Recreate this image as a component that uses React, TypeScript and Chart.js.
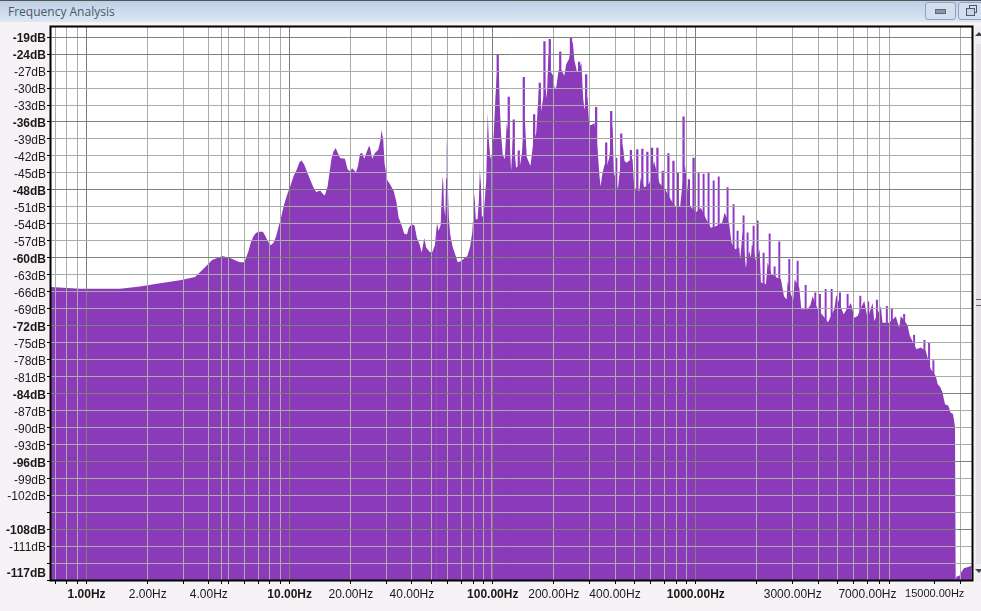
import React, { useEffect, useRef } from "react";
import { Chart, registerables } from "chart.js";

Chart.register(...registerables);

const smoothHz = [0.668,0.929,1.46,1.83,2.3,2.88,3.42,3.83,4.15,4.65,5.09,5.29,5.49,5.7,5.96,6.06,6.27,6.43,6.63,6.84,7.1,7.38,7.6,7.83,8.07,8.32,8.58,8.84,9.11,9.39,9.77,10.06,10.45,10.84,11.18,11.44,11.79,12.24,12.62,13.1,13.5,14.15,14.46,14.9,15.37,15.7,16.08,16.44,16.85,17.25,17.76,18.7,19.3,19.85,20.3,21.2,21.7,22.2,22.75,23.3,24,24.6,24.9,25.5,26.3,27.3,28,28.3,28.9,29.3,30.2,31.3,32.5,33.5,34.4,35.7,36.6,37.8,38.6,39.8,41.2,42.3,43.6,44.7,46,47,48.9,50.3,51.9,53.1];
const smoothDb = [-65.2,-65.5,-65.5,-65.1,-64.5,-64,-63.4,-61.7,-60.4,-59.7,-60.06,-60.3,-60.6,-60.8,-60.8,-60.3,-58.8,-57.4,-56.2,-55.6,-55.4,-55.4,-56.2,-57.2,-57.8,-57.4,-56.2,-54.4,-52.6,-50.6,-48.6,-47.4,-45.6,-44.4,-43.1,-42.8,-43.5,-45,-46.2,-47.6,-48.4,-48.1,-48.6,-49,-47.4,-45,-42.4,-41.2,-40.6,-41.5,-42.4,-42.5,-44.4,-44.7,-44.2,-44.9,-43.8,-41.6,-41.5,-42.5,-41.2,-40.2,-40.6,-42.5,-41.5,-40.9,-39.2,-37.4,-39.2,-43.2,-46.2,-47.1,-48.2,-50,-52.9,-54.4,-55.7,-55.9,-54.7,-54.1,-54.3,-56.5,-57.6,-59.1,-56.5,-58.2,-59,-59.1,-57.8,-53.8];

const lowSpikeHz = [53.1,54.1,55.4,56.2,56.7,57.1,57.5,58.4,58.9,59.3,59.8,60.3,60.8,61.7,62.2,63.4,65.7,67.2,70,71.9,75,77.4,79.2,80.4,81,81.6,82.5,84.1,85.4,86.4,87.4,88.4,90,91.4,92.8,94.5,95.6,97.4,98.9];
const lowSpikeDb = [-53.8,-55.3,-54.2,-48,-45.5,-47,-50.8,-52.7,-46,-39.1,-42,-49,-52.9,-55.8,-56.5,-58,-59.7,-60.8,-60.6,-60.2,-59.7,-58,-55.6,-52,-48.5,-50,-53.2,-53.2,-50,-44.3,-47,-52.6,-52.9,-49.7,-46.5,-34.4,-39.1,-42.6,-41.6];

const midSpikeHz = [98.9,101.1,103,104.6,105.8,107,108.3,109.9,112,114.6,117.2,119.9,121.3,123.1,125.5,126.9,128.8,130.3,134.3,136.4,139.5,142.2,143.8,147,153.3,157.5,159.9,163.6,168.6,170.5,173,175.7,179.7,181.8,184.6,188.1,190.9,193.1,198.4,201.5,205.4,210.9,214.9,218.2,224.9,230.1,237.2,242.7,247.4,252.2,260.1,266.2,273.4,278.7,282.9,288.4,292.8,298.4,307.6,316.9,322.9,327.9,335.5,339.3,347.2,355.2,361.9,366,374.4,383,388.9,394.8,405.4,413.2,422.8,429.2,435.8,445.8,456,466.5,479,488,495.6,507,514.9,526.9,535,545.2,557.8,577.2,590.5,608.7,622.7,646.8,661.6,687,705.5,732.9,752.5,775.7,790.5,815,837.4,853.5,870,883.3,910.5,924.4,938.5,974.7,997];
const midSpikeDb = [-41.6,-38.2,-31.8,-27.9,-24.1,-26.2,-33.2,-38.2,-41.8,-42.6,-36.2,-31.6,-39.4,-44.7,-39.1,-35.6,-42,-44.1,-41.1,-43.5,-41.2,-28.1,-35.2,-42.2,-43.8,-40.3,-34.7,-37.9,-30.3,-29.1,-34.1,-32.5,-21.8,-30,-31.8,-23.8,-21.4,-27.1,-27.8,-30,-29.9,-26.8,-23.6,-26.8,-27.8,-25.8,-24.9,-21.2,-21.6,-25,-27.2,-25.4,-25.6,-31.8,-33.8,-27.6,-31.5,-36.6,-36.5,-36.2,-33.4,-40.6,-45.6,-47.4,-45,-43.5,-39.7,-43.5,-42.4,-34.1,-36.5,-44.9,-42.4,-47.9,-44.4,-38.1,-39.7,-42.9,-43.2,-42.9,-41,-42.6,-46.8,-48.1,-40.9,-48.2,-45.9,-40.8,-47.6,-41.3,-46.8,-40.6,-42.9,-40.6,-46.8,-44.7,-47.9,-41.6,-49.7,-42.9,-50.9,-45,-50.9,-47.9,-35.1,-43.5,-47.9,-46.2,-50.9,-42.4,-52];

const highSpikeHz = [997,1032,1060,1092,1125,1155,1186,1224,1262,1296,1346,1388,1433,1460,1499,1534,1563,1605,1636,1654,1699,1718,1764,1798,1832,1867,1889,1925,1977,2015,2061,2092,2156,2214,2257,2309,2353,2443,2499,2576,2625,2716,2799,2831,2885,2940,3019,3065,3172,3233,3307,3395,3473,3553,3662,3760,3875,3979,4085,4243,4357,4473,4663,4806,4917,5125,5342,5589,5805,6028,6261,6453,6751,7010,7063,7419,7560,7791,8150,8305,8720,8953,9228,9655,10026,10217,10610,11018,11311,11880,12198,12810,13354,13557,14077,14345,14783,15178,15525,15999,16364,16865,17510,17977,18456,18900];
const highSpikeDb = [-52,-45,-51.2,-45.2,-53.2,-45,-54.7,-46.4,-54.4,-45.7,-53.8,-52,-47.6,-54.1,-57.4,-50.6,-58.5,-55.3,-58.2,-60.3,-55.3,-52.6,-61.8,-55.6,-58.8,-60,-57.4,-54.4,-60.6,-53.5,-58.5,-64.4,-59.2,-64.7,-60.8,-55.8,-62.9,-61.6,-63.5,-57.2,-63.8,-66.8,-67.4,-64.1,-60.3,-66.5,-67.4,-63.8,-60.6,-65.3,-69.1,-69.1,-64.9,-69.1,-68.4,-66.8,-66.2,-69.1,-66.5,-70.3,-65.6,-71.4,-65.6,-69.1,-66.6,-66.2,-70,-66.5,-68,-70.6,-70.3,-66.8,-67.6,-70.8,-67.8,-68,-71.2,-67.5,-68.6,-71.5,-68.6,-71.5,-69.1,-70.4,-72.4,-70.3,-70,-71.9,-73.8,-73.7,-76.2,-75.9,-74.6,-76.5,-75.1,-79.7,-78.2,-80.9,-82.4,-82.9,-83.8,-85.9,-86.2,-87.4,-87.6,-90];

const tailHz = [18900,19050,19200,19800,20300,20900,21900,22800];
const tailDb = [-90,-116.9,-116.4,-116.3,-115.6,-114.9,-114.7,-114.5];

const xTickHz = [0.7,0.8,0.9,1,2,3,4,4.6,5,6,7,8,9,10,20,30,40,50,60,70,80,90,100,200,300,400,500,600,700,800,900,1000,2000,3000,4000,5000,6000,7000,8000,9000,15000,20000];
const xLabelHz = [1,2,4,10,20,40,100,200,400,1000,3000,7000,15000];
const xLabelText = ["1.00Hz","2.00Hz","4.00Hz","10.00Hz","20.00Hz","40.00Hz","100.00Hz","200.00Hz","400.00Hz","1000.00Hz","3000.00Hz","7000.00Hz","15000.00Hz"];
const xBoldHz = [1,10,100,1000];

const yTickDb = [-21,-24,-27,-30,-33,-36,-39,-42,-45,-48,-51,-54,-57,-60,-63,-66,-69,-72,-75,-78,-81,-84,-87,-90,-93,-96,-99,-102,-105,-108,-111,-114,-115.6,-117];
const yLabelText = ["-19dB","-24dB","-27dB","-30dB","-33dB","-36dB","-39dB","-42dB","-45dB","-48dB","-51dB","-54dB","-57dB","-60dB","-63dB","-66dB","-69dB","-72dB","-75dB","-78dB","-81dB","-84dB","-87dB","-90dB","-93dB","-96dB","-99dB","-102dB","","-108dB","-111dB","","-117dB",""];
const yBoldDb = [-21,-24,-36,-48,-60,-72,-84,-96,-108,-115.6];

const PURPLE = "#8B3ABA";
const SPIKE = "#9038C4";
const FONT = "'Liberation Sans', Arial, sans-serif";

function points(xs: number[], ys: number[]) {
  return xs.map((x, i) => ({ x, y: ys[i] }));
}

function isPeak(ys: number[], i: number) {
  return i > 0 && i < ys.length - 1 && ys[i] > ys[i - 1] && ys[i] > ys[i + 1];
}

// the readings themselves are unchanged: local peaks are shown as single-bin columns, the rest as the filled body
function area(data: { x: number; y: number }[]) {
  return {
    data,
    backgroundColor: PURPLE,
    borderColor: PURPLE,
    borderWidth: 0,
    pointRadius: 0,
    tension: 0,
    fill: "start",
  };
}

function body(xs: number[], ys: number[]) {
  return area(points(xs, ys).filter((_, i) => !isPeak(ys, i)));
}

function peaks(xs: number[], ys: number[], width: number) {
  return {
    type: "bar",
    data: points(xs, ys).filter((_, i) => isPeak(ys, i)),
    base: -117,
    barThickness: width,
    grouped: false,
    backgroundColor: SPIKE,
    borderWidth: 0,
  };
}

const framePlugin = {
  id: "frame",
  beforeDraw(chart: any) {
    const { ctx, chartArea: a } = chart;
    ctx.save();
    ctx.fillStyle = "#FFFFFF";
    ctx.fillRect(a.left, a.top, a.right - a.left, a.bottom - a.top);
    ctx.restore();
  },
  afterDraw(chart: any) {
    const { ctx, chartArea: a } = chart;
    ctx.save();
    ctx.strokeStyle = "#000000";
    ctx.lineWidth = 2;
    ctx.strokeRect(a.left - 0.5, a.top - 0.5, a.right - a.left + 1, a.bottom - a.top + 1);
    ctx.restore();
  },
};

export default function App() {
  const ref = useRef<HTMLCanvasElement>(null);
  useEffect(() => {
    const chart = new Chart(ref.current as HTMLCanvasElement, {
      type: "line",
      data: {
        datasets: [
          area(points(smoothHz, smoothDb)),
          area(points(lowSpikeHz, lowSpikeDb)),
          body(midSpikeHz, midSpikeDb),
          peaks(midSpikeHz, midSpikeDb, 1.6),
          body(highSpikeHz, highSpikeDb),
          peaks(highSpikeHz, highSpikeDb, 1.3),
          area(points(tailHz, tailDb)),
        ] as any,
      },
      plugins: [framePlugin],
      options: {
        animation: false,
        responsive: false,
        devicePixelRatio: 1,
        layout: { padding: { top: 27, right: 9, left: 0, bottom: 0 } },
        plugins: { legend: { display: false }, tooltip: { enabled: false } },
        scales: {
          x: {
            type: "logarithmic",
            offset: false,
            min: 0.668,
            max: 22900,
            afterBuildTicks: (s: any) => {
              s.ticks = xTickHz.map((value) => ({ value }));
            },
            afterFit: (s: any) => {
              s.height = 31;
            },
            grid: {
              z: 1,
              offset: false,
              tickLength: 4,
              tickColor: "#000000",
              color: (c: any) =>
                !c.tick || c.tick.value === 15000
                  ? "rgba(0,0,0,0)"
                  : xBoldHz.includes(c.tick.value)
                  ? "#7C827A"
                  : "#A9ACA9",
            },
            border: { display: false },
            ticks: {
              autoSkip: false,
              maxRotation: 0,
              minRotation: 0,
              padding: 3,
              color: "#1A1A1A",
              font: (c: any) => ({
                family: FONT,
                size: c.tick && c.tick.value === 15000 ? 11 : 12,
                weight: c.tick && xBoldHz.includes(c.tick.value) ? "bold" : "normal",
              }),
              callback: (v: any) => {
                const i = xLabelHz.indexOf(Number(v));
                return i >= 0 ? xLabelText[i] : "";
              },
            },
          },
          y: {
            type: "linear",
            beginAtZero: false,
            min: -117,
            max: -19.2,
            afterBuildTicks: (s: any) => {
              s.ticks = yTickDb.map((value) => ({ value }));
            },
            afterFit: (s: any) => {
              s.width = 51;
            },
            grid: {
              z: 1,
              tickLength: 4,
              tickColor: (c: any) =>
                c.tick && c.tick.value === -115.6 ? "rgba(0,0,0,0)" : "#000000",
              color: (c: any) =>
                !c.tick || c.tick.value === -115.6
                  ? "rgba(0,0,0,0)"
                  : yBoldDb.includes(c.tick.value)
                  ? "#7C827A"
                  : "#A9ACA9",
            },
            border: { display: false },
            ticks: {
              autoSkip: false,
              padding: 1,
              labelOffset: 2,
              color: "#1A1A1A",
              font: (c: any) => ({
                family: FONT,
                size: 12,
                weight: c.tick && yBoldDb.includes(c.tick.value) ? "bold" : "normal",
              }),
              callback: (v: any) => {
                const i = yTickDb.indexOf(Number(v));
                return i >= 0 ? yLabelText[i] : "";
              },
            },
          },
        },
      } as any,
    });
    return () => chart.destroy();
  }, []);

  return (
    <div style={{ position: "absolute", left: 0, top: 0, width: 981, height: 611, background: "#F6F2F6", overflow: "hidden" }}>
      <canvas ref={ref} width={981} height={611} style={{ position: "absolute", left: 0, top: 0, width: 981, height: 611 }} />
      <div style={{ position: "absolute", left: 0, top: 0, width: 981, height: 22, boxSizing: "border-box", borderTop: "1px solid #555", background: "linear-gradient(#BFD0E6,#DCE7F5)" }}>
        <span style={{ position: "absolute", left: 8, top: 2, font: "12px 'Open Sans', sans-serif", color: "#4A5866" }}>Frequency Analysis</span>
        <div style={{ position: "absolute", left: 925, top: 1, width: 29, height: 16, border: "1px solid #8FA3BC", borderRadius: 3, background: "#D3DFEE" }}>
          <div style={{ position: "absolute", left: 9, top: 6, width: 9, height: 3, background: "#8A96A4", border: "1px solid #5E6A78" }} />
        </div>
        <div style={{ position: "absolute", left: 958, top: 1, width: 30, height: 16, border: "1px solid #8FA3BC", borderRadius: 3, background: "#D3DFEE" }}>
          <div style={{ position: "absolute", left: 10, top: 2, width: 6, height: 6, border: "1px solid #4E5A68" }} />
          <div style={{ position: "absolute", left: 7, top: 5, width: 7, height: 6, border: "1px solid #4E5A68", background: "#C8D4E2" }} />
        </div>
      </div>
      <div style={{ position: "absolute", left: 975, top: 27, width: 6, height: 554, background: "#F0EEF1" }}>
        <div style={{ position: "absolute", left: 0, top: 5, width: 0, height: 0, borderLeft: "4px solid transparent", borderRight: "4px solid transparent", borderBottom: "4px solid #444" }} />
        <div style={{ position: "absolute", left: 1, top: 17, width: 5, height: 520, background: "#E4E2E6" }} />
        <div style={{ position: "absolute", left: 1, top: 272, width: 5, height: 7, borderTop: "1px solid #666", borderBottom: "1px solid #666", boxSizing: "border-box" }} />
        <div style={{ position: "absolute", left: 0, top: 542, width: 0, height: 0, borderLeft: "4px solid transparent", borderRight: "4px solid transparent", borderTop: "4px solid #444" }} />
      </div>
    </div>
  );
}
